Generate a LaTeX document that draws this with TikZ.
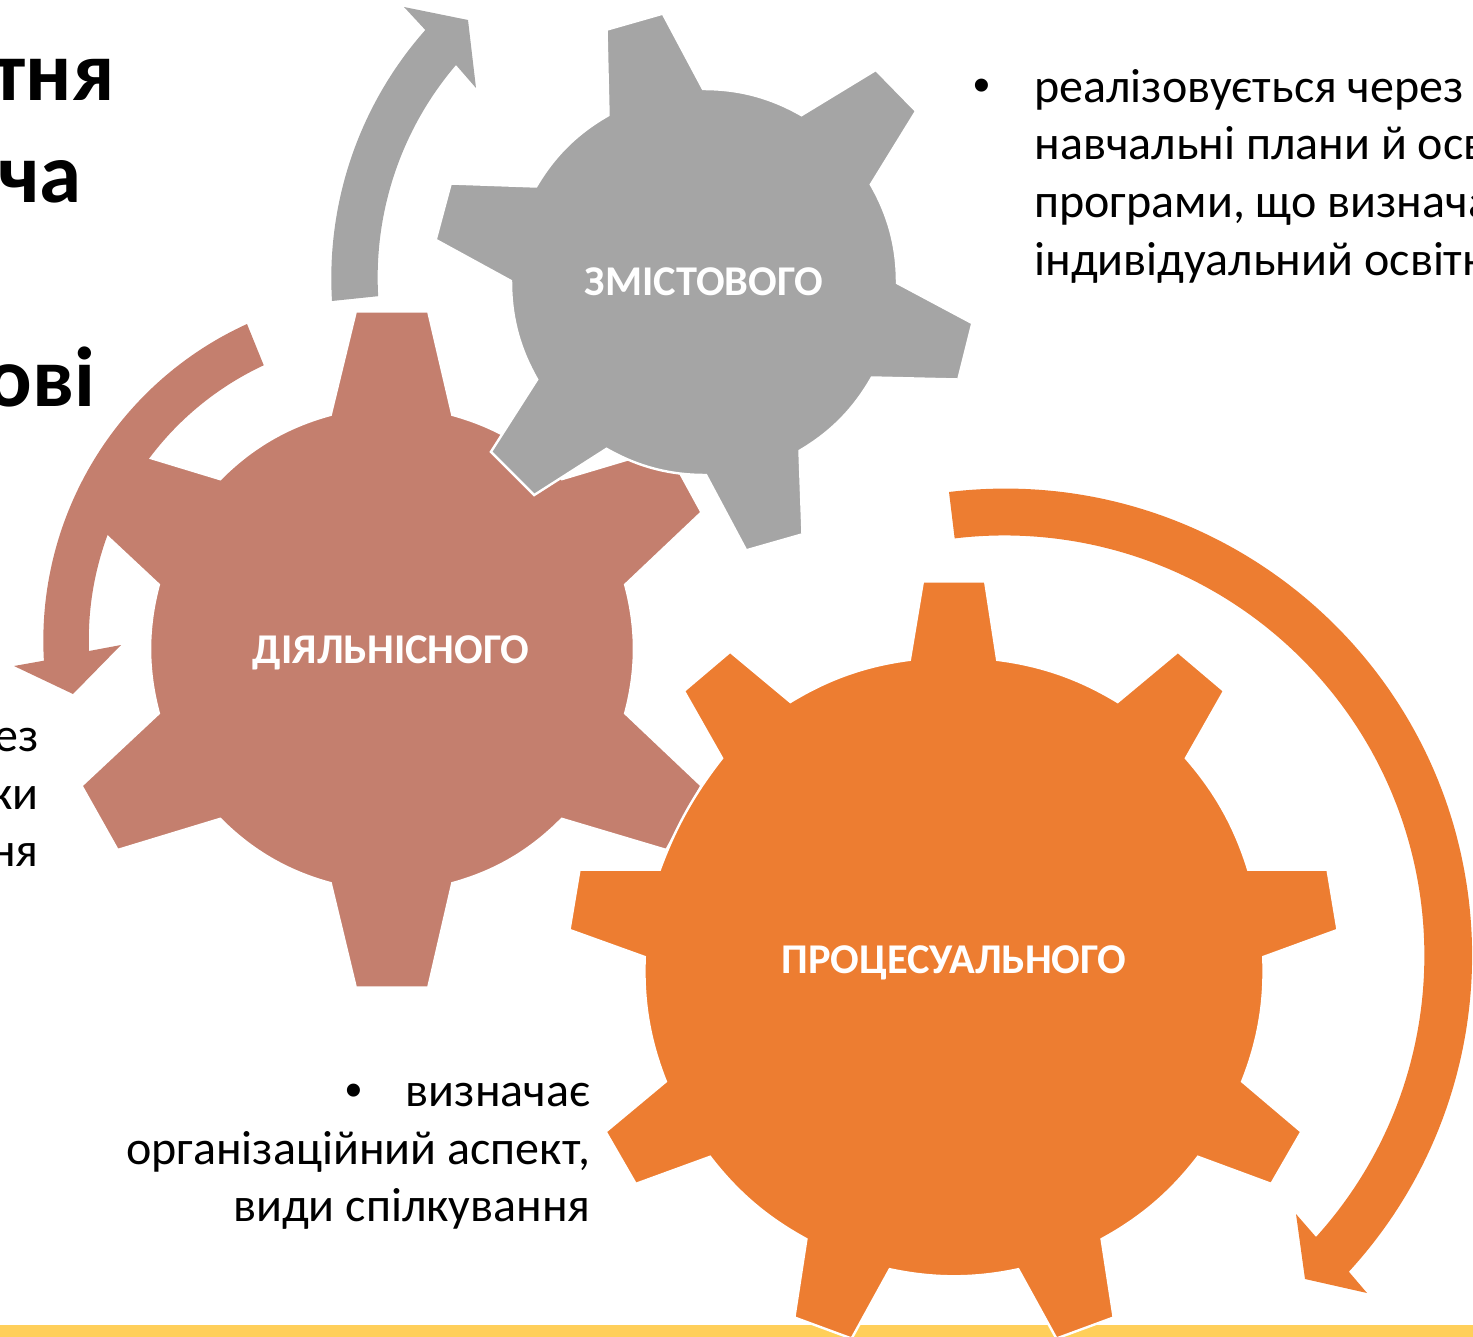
\documentclass[tikz,border=0pt]{standalone}
\usepackage{fontspec}
\setmainfont{Carlito}
\newfontfamily\bulletfont{Liberation Sans}
\definecolor{ggray}{HTML}{A5A5A5}
\definecolor{gpink}{HTML}{C47F6E}
\definecolor{gorange}{HTML}{ED7D31}
\definecolor{gyellow}{HTML}{FFCF5A}
\tikzset{
  garc/.style={bend left=#1,looseness=.9},
  gearshape/.style={draw=white,line width=1.2pt,line join=miter},
  gearlabel/.style={text=white,font=\bfseries\fontsize{21.2}{25}\selectfont,inner sep=0pt},
  body/.style={font=\fontsize{24}{28}\selectfont,inner sep=0pt,text=black},
  bulletmark/.style={font=\bulletfont\fontsize{24}{28}\selectfont,inner sep=0pt,text=black},
  head/.style={font=\bfseries\fontsize{42.5}{50}\selectfont,inner sep=0pt,text=black}
}
\begin{document}
\begin{tikzpicture}[x=.5pt,y=-.5pt]
\useasboundingbox (0,0) rectangle (1473,1337);
\clip (0,0) rectangle (1473,1337);
% strip
\fill[gyellow] (0,1325) rectangle (1473,1337);
% texts behind
\node[head,anchor=base east] (h1) at (115,101) {тня};
\node[head,anchor=base east] (h2) at (82,203) {ча};
\node[head,anchor=base east] (h3) at (96,407) {ові};
\node[body,anchor=base east] (l1) at (39,751) {ез};
\node[body,anchor=base east] (l2) at (39,809) {ки};
\node[body,anchor=base east] (l3) at (39,866) {ня};
\node[bulletmark,anchor=base] (b0) at (982,102) {•};
\node[body,anchor=base west] (r1) at (1034,102.5) {реалізовується через};
\node[body,anchor=base west] (r2) at (1034,160) {навчальні плани й осв};
\node[body,anchor=base west] (r3) at (1034,217.5) {програми, що визнача};
\node[body,anchor=base west] (r4) at (1034,275.5) {індивідуальний освітн};
\node[bulletmark,anchor=base] (c0) at (354,1106) {•};
\node[body,anchor=base east] (c1) at (591,1106.5) {визначає};
\node[body,anchor=base east] (c2) at (591,1164) {організаційний аспект,};
\node[body,anchor=base east] (c3) at (591,1221.5) {види спілкування};
% pink gear
\path[fill=gpink,gearshape,scale around={1.005:(391,649)}]
 (331,416)--(356,313)--(428,313)--(452,416) to[garc=15] (561,480)
 --(665,449)--(700,513)--(624,585) to[garc=15] (624,713)
 --(700,785)--(665,849)--(561,818) to[garc=15] (452,882)
 --(428,986)--(356,986)--(331,882) to[garc=15] (221,818)
 --(119,849)--(83,785)--(160,713) to[garc=15] (160,585)
 --(83,513)--(119,449)--(221,480) to[garc=15] (331,416)--cycle;
% pink arrow
\fill[gpink] (247,324) arc[start angle=245.5,end angle=176.7,radius=348]
 --(14,666)--(73,694)--(121,645)--(89,651) arc[start angle=177.9,end angle=245,radius=303]--cycle;
% gray arrow
\fill[ggray] (332,301) arc[start angle=176.5,end angle=221.5,radius=374.5]
 --(404,7)--(468,20)--(476,88)--(456,65) arc[start angle=220.5,end angle=176.7,radius=327]--cycle;
% gray gear
\path[fill=ggray,gearshape,scale around={1.005:(704,282)}]
 (609,116)--(607,31)--(663,15)--(703,90) to[garc=15] (801,116)
 --(875,71)--(915,112)--(870,185) to[garc=15] (896,283)
 --(971,323)--(957,379)--(871,377) to[garc=15] (799,450)
 --(802,533)--(746,549)--(706,474) to[garc=15] (607,448)
 --(535,494)--(492,451)--(538,379) to[garc=15] (512,281)
 --(437,240)--(452,184)--(537,187) to[garc=15] (609,116)--cycle;
% orange arrow
\fill[gorange] (949,492) arc[start angle=-96.9,end angle=42.6,radius=467]
 --(1367,1293)--(1305,1279)--(1296,1214)--(1316,1237) arc[start angle=42.1,end angle=-96.8,radius=420]--cycle;
% orange gear
\path[fill=gorange,gearshape,scale around={1.004:(954,958)}]
 (910,661)--(923,583)--(985,583)--(997,661) to[garc=12] (1117,703)
 --(1177,653)--(1223,692)--(1185,759) to[garc=12] (1247,870)
 --(1326,870)--(1336,930)--(1262,957) to[garc=12] (1241,1081)
 --(1300,1131)--(1270,1183)--(1197,1156) to[garc=12] (1101,1238)
 --(1113,1316)--(1056,1337)--(1018,1268) to[garc=12] (890,1268)
 --(852,1337)--(795,1316)--(807,1238) to[garc=12] (711,1156)
 --(637,1183)--(607,1131)--(667,1081) to[garc=12] (646,957)
 --(571,930)--(581,870)--(661,870) to[garc=9] (723,759)
 --(685,692)--(731,653)--(791,703) to[garc=12] (910,661)--cycle;
% labels
\node[gearlabel] (g1) at (704,282) {ЗМІСТОВОГО};
\node[gearlabel] (g2) at (391,653) {ДІЯЛЬНІСНОГО};
\node[gearlabel] (g3) at (954,963) {ПРОЦЕСУАЛЬНОГО};
\end{tikzpicture}
\end{document}
